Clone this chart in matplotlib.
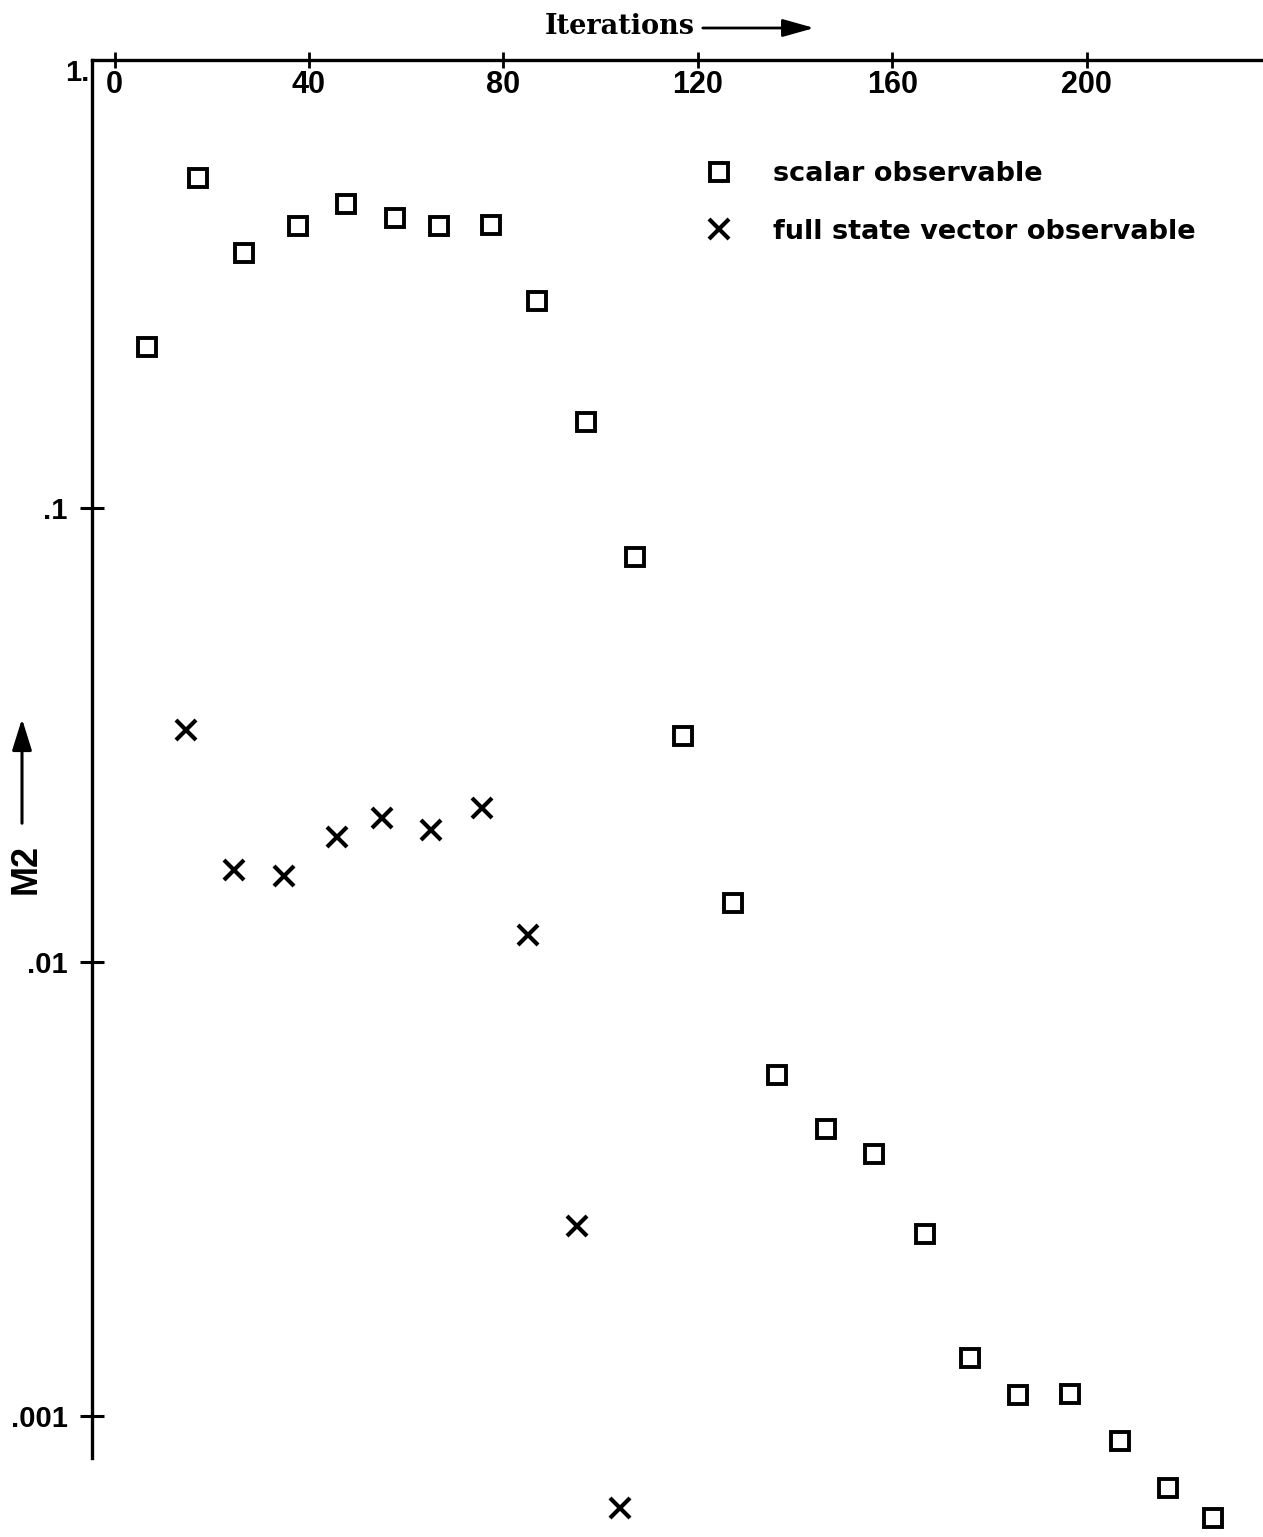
import numpy as np
import matplotlib
matplotlib.use("Agg")
import matplotlib.pyplot as plt

# ---- data ----
scalar_iter = [6.7, 17.1, 26.7, 37.7, 47.7, 57.7, 66.7, 77.4, 87.0, 97.0, 107.0,
               116.9, 127.2, 136.3, 146.3, 156.2, 166.7, 176.0, 185.9, 196.6,
               206.9, 216.7, 226.0]
scalar_m2 = [0.226, 0.533, 0.364, 0.418, 0.467, 0.435, 0.418, 0.420, 0.286,
             0.155, 0.078, 0.0315, 0.0135, 0.00564, 0.00429, 0.00378, 0.00252,
             0.00134, 0.00111, 0.00112, 0.000881, 0.000694, 0.000596]

full_iter = [14.6, 24.6, 34.9, 45.7, 55.0, 65.2, 75.6, 85.1, 95.1, 104.0]
full_m2 = [0.0324, 0.01595, 0.01546, 0.01885, 0.02076, 0.01953, 0.02184,
           0.01147, 0.00262, 0.000627]

x_ticks = [0, 40, 80, 120, 160, 200]
y_ticks = [0.001, 0.01, 0.1]
y_ticklabels = [".001", ".01", ".1"]

W, H = 1263, 1537
fig = plt.figure(figsize=(W / 100, H / 100), dpi=100)

left_px, top_px, bottom_px = 92, 60, 1458
ax = fig.add_axes([left_px / W, 1 - bottom_px / H, 1 - left_px / W,
                   (bottom_px - top_px) / H])
ax.set_yscale("log")
ax.set_xlim(-4.65, 236.3)
ax.set_ylim(10 ** -3.0925, 10 ** -0.0132)

for s in ["right", "bottom"]:
    ax.spines[s].set_visible(False)
for s in ["top", "left"]:
    ax.spines[s].set_linewidth(2.4)

tickfont = dict(family="Liberation Sans", weight="bold")

ax.xaxis.tick_top()
ax.set_xticks(x_ticks)
ax.set_xticklabels([str(v) for v in x_ticks], fontsize=22, **tickfont)
ax.tick_params(axis="x", which="major", direction="inout", length=12,
               width=2, pad=-35, bottom=False, labelbottom=False)

ax.set_yticks(y_ticks)
ax.set_yticklabels(y_ticklabels, fontsize=21, **tickfont)
ax.yaxis.set_minor_locator(matplotlib.ticker.NullLocator())
ax.tick_params(axis="y", which="major", direction="inout", length=17,
               width=2.2, pad=9)

ax.annotate("1.", xy=(0, 1), xycoords="axes fraction", xytext=(-2, 1),
            textcoords="offset points", ha="right", va="top",
            fontsize=21, **tickfont)

ax.plot(scalar_iter, scalar_m2, linestyle="none", marker="s", ms=13,
        mfc="none", mec="black", mew=2.8, clip_on=False,
        label="scalar observable")
ax.plot(full_iter, full_m2, linestyle="none", marker="x", ms=15,
        mec="black", mew=3.0, clip_on=False,
        label="full state vector observable")

leg = ax.legend(loc="upper left", bbox_to_anchor=(705 / W, 1 - 161 / H),
                bbox_transform=fig.transFigure, frameon=False,
                prop=dict(family="DejaVu Sans", weight="bold", size=19.5),
                handlelength=1.0, handletextpad=1.5, labelspacing=1.17,
                borderpad=0, borderaxespad=0, numpoints=1)

# axis titles
fig.text(545 / W, 1 - 27 / H, "Iterations", ha="left", va="center",
         fontsize=19.5, family="DejaVu Serif", weight="bold")
fig.add_artist(matplotlib.patches.FancyArrowPatch(
    (700 / W, 1 - 28 / H), (817 / W, 1 - 28 / H), transform=fig.transFigure,
    arrowstyle="-|>,head_length=1.6,head_width=0.45", lw=2, color="black",
    mutation_scale=12))

fig.text(26 / W, 1 - 869 / H, "M2", rotation=90, ha="center", va="center",
         fontsize=26, family="Liberation Sans", weight="bold")
fig.add_artist(matplotlib.patches.FancyArrowPatch(
    (22 / W, 1 - 826 / H), (22 / W, 1 - 716 / H), transform=fig.transFigure,
    arrowstyle="-|>,head_length=1.6,head_width=0.5", lw=2.2, color="black",
    mutation_scale=12))

fig.savefig("out.png", dpi=100)
